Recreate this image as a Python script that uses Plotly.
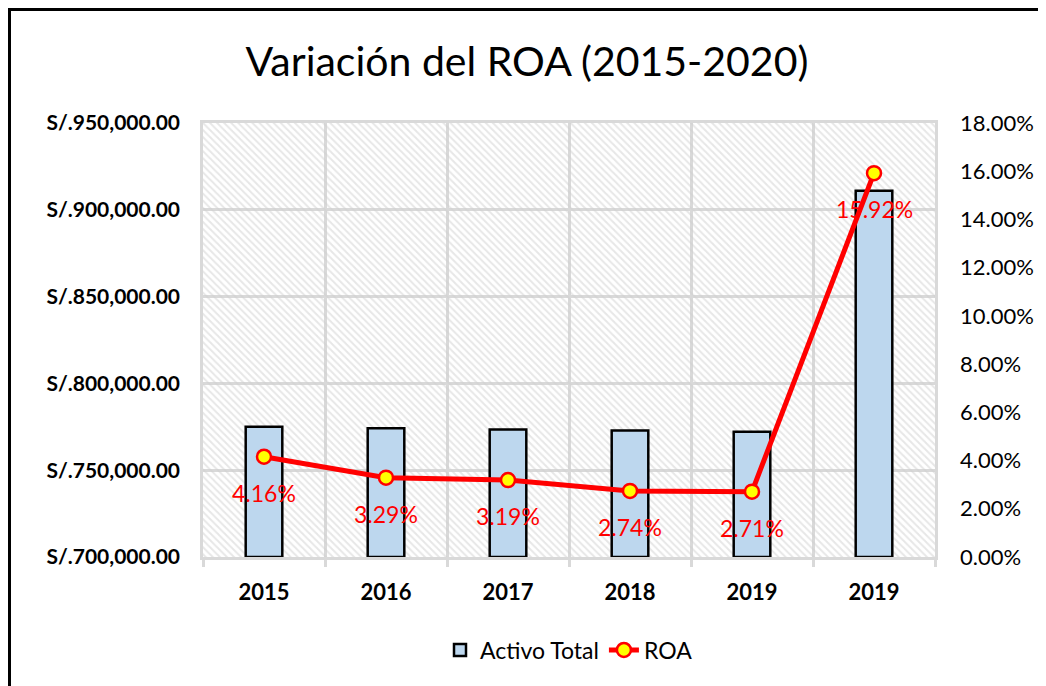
import plotly.graph_objects as go

# datos
anios = ["2015", "2016", "2017", "2018", "2019", "2019"]
activo_total = [775000, 774200, 773500, 772800, 772100, 911000]
roa = [4.16, 3.29, 3.19, 2.74, 2.71, 15.92]

y_min, y_max = 700000, 950000
pos = list(range(len(anios)))

# la pagina deja 8px de margen, se compensa aqui
W, H = 1038, 678
ml, mr, mt, mb = 195, 111, 115, 129
pw, ph = W - ml - mr, H - mt - mb

fig = go.Figure()

# fondo rayado del area de trazado
fig.add_trace(go.Bar(
    x=[(len(anios) - 1) / 2], y=[y_max - y_min], base=[y_min], width=[len(anios)],
    marker=dict(color="rgba(0,0,0,0)", line_width=0,
                pattern=dict(shape="\\", fgcolor="#cfcfcf", bgcolor="rgba(0,0,0,0)",
                             size=5, solidity=0.4)),
    hoverinfo="skip", showlegend=False))

fig.add_trace(go.Bar(
    x=pos, y=[v - y_min for v in activo_total], base=y_min, width=0.3,
    name="Activo Total",
    marker=dict(color="#BDD7EE", line=dict(color="black", width=2.5))))

fig.add_trace(go.Scatter(
    x=pos, y=roa, yaxis="y2", name="ROA", mode="lines+markers",
    line=dict(color="#FF0000", width=5),
    marker=dict(color="#FFFF00", size=14, line=dict(color="#FF0000", width=2.5))))

for i, v in enumerate(roa):
    fig.add_annotation(x=pos[i], y=v, yref="y2", text=f"{v:.2f}%", showarrow=False,
                       yshift=-36, font=dict(color="#FF0000", size=23))

# borde del grafico
fig.add_shape(type="rect", xref="paper", yref="paper",
              x0=(1.5 - ml) / pw, x1=1.5, y0=-0.5, y1=1 + (mt - 1.5) / ph,
              line=dict(color="black", width=3))

fig.update_layout(
    width=W, height=H,
    margin=dict(l=ml, r=mr, t=mt, b=mb),
    paper_bgcolor="white", plot_bgcolor="white",
    barmode="overlay",
    font=dict(family="Lato, Open Sans, sans-serif", color="black"),
    title=dict(text="Variación del ROA (2015-2020)", x=0.5, xanchor="center",
               y=1 - 54 / H, yanchor="middle", font=dict(size=41, color="black")),
    xaxis=dict(range=[-0.5, len(anios) - 0.5], tickvals=pos, ticktext=anios,
               showgrid=False, ticks="", showline=True, linecolor="#d9d9d9", linewidth=2.5,
               mirror=True, tickfont=dict(size=22, weight="bold"),
               ticklabelstandoff=14,
               minor=dict(tick0=-0.5, dtick=1, showgrid=True, gridcolor="#d9d9d9",
                          gridwidth=2.5, ticks="outside", ticklen=7, tickcolor="#d9d9d9",
                          tickwidth=2.5)),
    yaxis=dict(range=[y_min, y_max], dtick=50000, tickprefix="S/.", tickformat=",.2f",
               showgrid=True, gridcolor="#d9d9d9", gridwidth=2.5, zeroline=False,
               showline=True, linecolor="#d9d9d9", linewidth=2.5, mirror=True,
               ticks="", ticklabelstandoff=16,
               tickfont=dict(size=21, weight="bold")),
    yaxis2=dict(range=[0, 18], dtick=2, ticksuffix="%", tickformat=".2f",
                overlaying="y", side="right", showgrid=False, zeroline=False,
                ticks="", ticklabelstandoff=24, tickfont=dict(size=22)),
    legend=dict(orientation="h", x=0.5, xanchor="center", y=-(642 - 549) / ph,
                yanchor="middle", font=dict(size=23), traceorder="normal"),
)

fig.write_html("out.html")
